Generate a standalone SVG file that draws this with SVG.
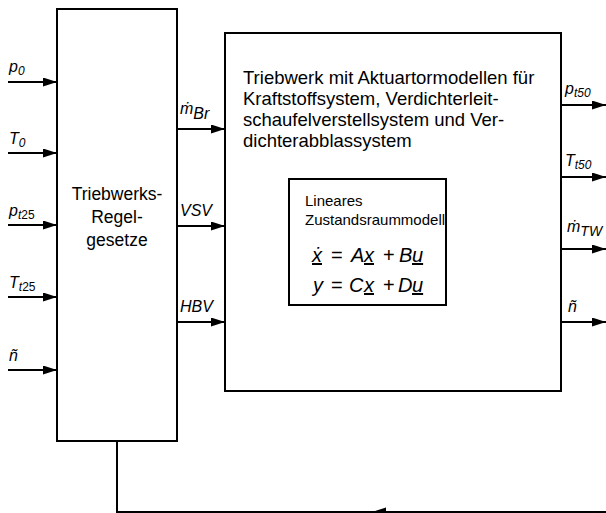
<svg xmlns="http://www.w3.org/2000/svg" width="606" height="513" viewBox="0 0 606 513">
<defs>
<marker id="ah" viewBox="0 0 14 9" refX="14" refY="4.5" markerWidth="14" markerHeight="9" markerUnits="userSpaceOnUse" orient="auto">
<path d="M0,0 L14,4.5 L0,9 z" fill="#000"/>
</marker>
<style>
.box{fill:#fff;stroke:#000;stroke-width:2}
.ln{fill:none;stroke:#000;stroke-width:2}
.ar{fill:none;stroke:#000;stroke-width:2;marker-end:url(#ah)}
text{font-family:"Liberation Sans",Arial,sans-serif;fill:#000}
.t{font-size:18.5px}
.tl{font-size:17.5px}
.ti{font-size:15px}
.lb{font-size:16px;font-style:italic}
.sb{font-size:12px;font-style:italic}
.eq{font-size:20px;font-style:italic}
.up{font-style:normal}
</style>
</defs>
<rect width="606" height="513" fill="#fff"/>
<g id="regler">
<rect class="box" x="57" y="9" width="120" height="432"/>
<text class="tl" text-anchor="middle"><tspan x="117" y="200">Triebwerks-</tspan><tspan x="117" y="223">Regel-</tspan><tspan x="117" y="246">gesetze</tspan></text>
</g>
<g id="triebwerk">
<rect class="box" x="225" y="33" width="336" height="358"/>
<text class="t"><tspan x="243" y="84">Triebwerk mit Aktuartormodellen für</tspan><tspan x="243" y="105">Kraftstoffsystem, Verdichterleit-</tspan><tspan x="243" y="126">schaufelverstellsystem und Ver-</tspan><tspan x="243" y="147">dichterabblassystem</tspan></text>
</g>
<g id="zustandsraummodell">
<rect class="box" x="289" y="179" width="157" height="126"/>
<text class="ti"><tspan x="305" y="206">Lineares</tspan><tspan x="305" y="225">Zustandsraummodell</tspan></text>
<text class="eq" y="262"><tspan x="312" text-decoration="underline">ẋ</tspan><tspan class="up" x="331">=</tspan><tspan x="351">A</tspan><tspan x="364" text-decoration="underline">x</tspan><tspan class="up" x="383">+</tspan><tspan x="399">B</tspan><tspan x="412" text-decoration="underline">u</tspan></text>
<text class="eq" y="292"><tspan x="313">y</tspan><tspan class="up" x="331">=</tspan><tspan x="349">C</tspan><tspan x="364" text-decoration="underline">x</tspan><tspan class="up" x="383">+</tspan><tspan x="398">D</tspan><tspan x="412" text-decoration="underline">u</tspan></text>
</g>
<g id="connectors">
<path class="ar" d="M8,82 H57"/>
<path class="ar" d="M8,153 H57"/>
<path class="ar" d="M8,225 H57"/>
<path class="ar" d="M8,297 H57"/>
<path class="ar" d="M8,370 H57"/>
<path class="ar" d="M177,129 H225"/>
<path class="ar" d="M177,226 H225"/>
<path class="ar" d="M177,322 H225"/>
<path class="ar" d="M561,105 H606"/>
<path class="ar" d="M561,177 H606"/>
<path class="ar" d="M561,249 H606"/>
<path class="ar" d="M561,322 H606"/>
<path class="ln" d="M117,441 V512 H606"/>
<path d="M372,512 L386,507.5 L386,516.5 z" fill="#000"/>
</g>
<g id="labels">
<text class="lb" x="9" y="72">p<tspan class="sb" dy="3">0</tspan></text>
<text class="lb" x="9" y="144">T<tspan class="sb" dy="3">0</tspan></text>
<text class="lb" x="9" y="216">p<tspan class="sb" dy="3">t</tspan><tspan class="sb up">25</tspan></text>
<text class="lb" x="9" y="288">T<tspan class="sb" dy="3">t</tspan><tspan class="sb up">25</tspan></text>
<text class="lb" x="9" y="361">ñ</text>
<text class="lb" x="180" y="114">ṁ<tspan dy="5">Br</tspan></text>
<text class="lb" x="180" y="216">VSV</text>
<text class="lb" x="180" y="312">HBV</text>
<text class="lb" x="565" y="94">p<tspan class="sb" dy="3">t50</tspan></text>
<text class="lb" x="565" y="166">T<tspan class="sb" dy="3">t50</tspan></text>
<text class="lb" x="567" y="232">ṁ<tspan style="font-size:14px" dy="4">TW</tspan></text>
<text class="lb" x="568" y="312">ñ</text>
</g>
</svg>
